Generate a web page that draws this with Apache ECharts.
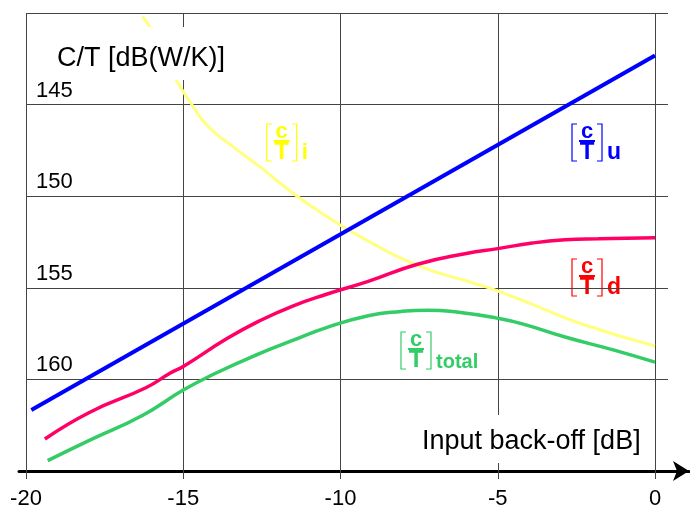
<!DOCTYPE html>
<html>
<head>
<meta charset="utf-8">
<script src="https://cdn.jsdelivr.net/npm/echarts@6/dist/echarts.min.js"></script>
<style>html,body{margin:0;padding:0;background:#fff;}#c{width:690px;height:510px;}</style>
</head>
<body>
<div id="c"></div>
<script>
// ---- data ----
const xMin = -20, xMax = 0, xStep = 5;
const yMin = 140, yMax = 165, yStep = 5;
const yTitle = 'C/T [dB(W/K)]';
const xTitle = 'Input back-off [dB]';
// uplink [C/T]u
const ctUplink = [[-19.83, 162.06], [0, 142.36]];
// downlink [C/T]d
const ctDownlink = [[-19.4,163.67],[-17.97,162.18],[-16.19,160.82],[-15.41,160.0],[-15,159.64],[-13.61,158.09],[-12.56,157.09],[-11.52,156.28],[-10.47,155.64],[-9.12,154.91],[-7.55,153.96],[-6,153.36],[-5,153.09],[-3.9,152.78],[-2.86,152.6],[-1.81,152.54],[0,152.49]];
// intermodulation [C/T]i
const ctInterm = [[-16.3,140.18],[-16.08,140.73],[-15.25,143.64],[-14.76,145.0],[-14.23,146.27],[-13.4,147.45],[-12.56,148.55],[-11.52,150.0],[-10.47,151.27],[-9.43,152.37],[-7.55,154.02],[-5.78,155.0],[-5.03,155.42],[-3.9,156.19],[-2.33,157.28],[0,158.5]];
// total [C/T]total
const ctTotal = [[-19.31,164.87],[-17.97,163.73],[-16.3,162.36],[-15,160.95],[-13.92,159.97],[-12.56,158.91],[-11.52,158.19],[-10.47,157.49],[-9.12,156.82],[-8.07,156.58],[-7.24,156.51],[-6.19,156.64],[-5.03,156.95],[-4.22,157.27],[-2.86,158.0],[-1.3,158.73],[0,159.4]];

const F = '"Liberation Sans", Arial, sans-serif';
const GRID_COLOR = '#444';

function ctLabel(x, y, color, sub, subSize, bg) {
  const ch = [];
  if (bg) ch.push({type:'rect', shape:{x:-15, y:-4, width:73, height:45}, style:{fill:'#fff'}});
  ch.push({type:'polyline', shape:{points:[[5,0],[0,0],[0,37],[5,37]]}, style:{stroke:color, lineWidth:1.2, fill:null}});
  ch.push({type:'polyline', shape:{points:[[25,0],[30,0],[30,37],[25,37]]}, style:{stroke:color, lineWidth:1.2, fill:null}});
  ch.push({type:'text', x:15, y:7.5, style:{text:'c', fill:color, font:'bold 22px ' + F, align:'center', verticalAlign:'middle'}});
  ch.push({type:'line', shape:{x1:7, y1:17, x2:23, y2:17}, style:{stroke:color, lineWidth:2}});
  ch.push({type:'text', x:15, y:28.6, style:{text:'T', fill:color, font:'bold 24px ' + F, align:'center', verticalAlign:'middle'}});
  ch.push({type:'text', x:35, y:37 - subSize * 0.35, style:{text:sub, fill:color, font:'bold ' + subSize + 'px ' + F, align:'left', verticalAlign:'middle'}});
  return {type:'group', x:x, y:y, z:1, children:ch};
}

const chart = echarts.init(document.getElementById('c'), null, {renderer:'canvas'});
chart.setOption({
  animation:false,
  backgroundColor:'#fff',
  title:[
    {text:yTitle, left:51, top:27, padding:[17,6,6,6], backgroundColor:'#fff',
     textStyle:{fontSize:27, fontWeight:'normal', color:'#000', fontFamily:F, lineHeight:30}},
    {text:xTitle, left:416, top:415, padding:[12,6,6,6], backgroundColor:'#fff',
     textStyle:{fontSize:27, fontWeight:'normal', color:'#000', fontFamily:F, lineHeight:30}}
  ],
  grid:[
    {left:26, right:35, top:13, bottom:39},   // data grid (x from -20 to 0)
    {left:19, right:1, top:13, bottom:39},    // arrow axis line
    {left:26, right:22, top:13, bottom:39}    // horizontal grid lines extending past 0
  ],
  xAxis:[
    {type:'value', gridIndex:0, min:xMin, max:xMax, interval:xStep,
     axisLine:{show:false},
     axisTick:{show:true, length:16, lineStyle:{color:GRID_COLOR, width:1}},
     axisLabel:{fontSize:22, color:'#000', fontFamily:F, margin:25},
     splitLine:{show:true, lineStyle:{color:GRID_COLOR, width:1}}},
    {type:'value', gridIndex:1, min:0, max:1,
     axisLine:{show:true, onZero:false, lineStyle:{color:'#000', width:3}, symbol:['none','arrow'], symbolSize:[15,16]},
     axisTick:{show:false}, axisLabel:{show:false}, splitLine:{show:false}},
    {type:'value', gridIndex:2, min:0, max:1, show:false}
  ],
  yAxis:[
    {type:'value', gridIndex:0, inverse:true, min:yMin, max:yMax, interval:yStep,
     axisLine:{show:false, onZero:false}, axisTick:{show:false}, axisLabel:{show:false}, splitLine:{show:false}},
    {type:'value', gridIndex:1, min:0, max:1, show:false},
    {type:'value', gridIndex:2, inverse:true, min:yMin, max:yMax, interval:yStep,
     axisLine:{show:false, onZero:false}, axisTick:{show:false},
     axisLabel:{inside:true, showMinLabel:false, showMaxLabel:false, fontSize:22, color:'#000', fontFamily:F,
                margin:10, verticalAlign:'bottom', padding:[0,0,3,0]},
     splitLine:{show:true, lineStyle:{color:GRID_COLOR, width:1}}}
  ],
  series:[
    {type:'line', name:'i', data:ctInterm, smooth:true, symbol:'none', lineStyle:{color:'#FFFF80', width:3}},
    {type:'line', name:'total', data:ctTotal, smooth:true, symbol:'none', lineStyle:{color:'#33CC66', width:3.5}},
    {type:'line', name:'d', data:ctDownlink, smooth:true, symbol:'none', lineStyle:{color:'#FF0066', width:3.5}},
    {type:'line', name:'u', data:ctUplink, symbol:'none', lineStyle:{color:'#0000FF', width:4}}
  ],
  graphic:[
    ctLabel(266.7, 124, '#FFFF00', 'i', 22, false),
    ctLabel(572, 124, '#0000FF', 'u', 23, false),
    ctLabel(572, 259, '#FF0000', 'd', 23, true),
    ctLabel(401, 332, '#33CC66', 'total', 20, false)
  ]
});
</script>
</body>
</html>
